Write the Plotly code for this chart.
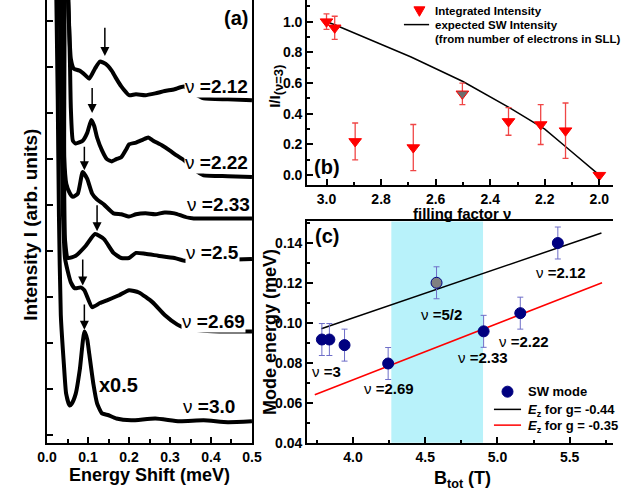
import plotly.graph_objects as go

# ---------------- Panel (a): Raman spectra (offset, arb. units) ----------------
e_212 = [0.049, 0.054, 0.058, 0.065, 0.080, 0.094, 0.103, 0.117, 0.129, 0.143, 0.158, 0.169, 0.181,
         0.193, 0.200, 0.217, 0.240, 0.264, 0.287, 0.311, 0.334, 0.358, 0.382, 0.441, 0.5]
i_212 = [9.89, 8.82, 8.18, 7.97, 7.92, 7.82, 7.75, 7.97, 8.12, 8.07, 7.92, 7.75, 7.58,
         7.45, 7.39, 7.41, 7.39, 7.43, 7.48, 7.52, 7.58, 7.43, 7.32, 7.30, 7.28]

e_222 = [0.051, 0.054, 0.056, 0.058, 0.063, 0.070, 0.087, 0.098, 0.108, 0.115, 0.122, 0.134, 0.146,
         0.158, 0.169, 0.181, 0.193, 0.200, 0.217, 0.233, 0.247, 0.259, 0.280, 0.299, 0.316, 0.335,
         0.358, 0.382, 0.441, 0.5]
i_222 = [9.89, 8.82, 8.03, 7.11, 6.40, 6.34, 6.40, 6.57, 6.85, 6.72, 6.47, 6.19, 6.00,
         5.95, 6.00, 6.04, 6.21, 6.32, 6.36, 6.42, 6.47, 6.40, 6.30, 6.19, 6.08, 5.97,
         5.78, 5.65, 5.63, 5.61]

e_233 = [0.043, 0.042, 0.042, 0.047, 0.056, 0.063, 0.075, 0.087, 0.098, 0.110, 0.122, 0.139, 0.162,
         0.181, 0.200, 0.217, 0.240, 0.264, 0.287, 0.311, 0.335, 0.358, 0.382, 0.441, 0.5]
i_233 = [9.89, 7.32, 6.04, 5.46, 5.25, 5.18, 5.25, 5.72, 5.57, 5.25, 5.12, 5.01, 4.82,
         4.80, 4.75, 4.80, 4.82, 4.80, 4.84, 4.82, 4.75, 4.71, 4.71, 4.71, 4.71]

e_25 = [0.037, 0.041, 0.044, 0.051, 0.070, 0.094, 0.117, 0.139, 0.162, 0.181, 0.200, 0.217, 0.240,
        0.271, 0.311, 0.335, 0.382, 0.441, 0.5]
i_25 = [9.89, 6.25, 4.22, 3.85, 3.90, 4.11, 4.37, 4.26, 3.96, 3.85, 3.85, 3.96, 3.94,
        3.90, 3.85, 3.79, 3.79, 3.81, 3.83]

e_269 = [0.030, 0.035, 0.039, 0.044, 0.058, 0.068, 0.082, 0.091, 0.110, 0.129, 0.146, 0.176, 0.200,
         0.224, 0.257, 0.287, 0.318, 0.335, 0.382, 0.441, 0.5]
i_269 = [9.89, 6.90, 4.75, 3.83, 3.32, 3.19, 3.21, 3.15, 2.78, 2.87, 2.93, 3.04, 3.15,
         3.10, 2.89, 2.61, 2.40, 2.33, 2.27, 2.25, 2.25]

e_30 = [0.022, 0.026, 0.029, 0.0335, 0.041, 0.0465, 0.055, 0.060, 0.070, 0.080, 0.091, 0.098, 0.103,
        0.113, 0.122, 0.134, 0.150, 0.169, 0.205, 0.264, 0.323, 0.382, 0.441, 0.5]
i_30 = [9.89, 7.32, 4.75, 2.61, 1.54, 0.90, 0.64, 0.68, 0.90, 1.43, 2.25, 2.08, 1.76,
        1.11, 0.69, 0.47, 0.43, 0.36, 0.32, 0.36, 0.30, 0.32, 0.28, 0.30]

spectra_e = [e_212, e_222, e_233, e_25, e_269, e_30]
spectra_i = [i_212, i_222, i_233, i_25, i_269, i_30]
spectra_labels = ["2.12", "2.22", "2.33", "2.5", "2.69", "3.0"]

# arrows marking the SW peak (energy, arrow tail, arrow tip)
arrow_e = [0.141, 0.110, 0.091, 0.122, 0.087, 0.091]
arrow_tail = [8.89, 7.58, 6.30, 5.03, 3.85, 2.87]
arrow_tip = [8.24, 7.00, 5.76, 4.43, 3.25, 2.29]

# ---------------- Panel (b): integrated intensity ----------------
nu_b = [3.0, 2.97, 2.895, 2.682, 2.502, 2.333, 2.215, 2.124, 2.0]
I_b = [1.0, 0.96, 0.22, 0.18, 0.53, 0.35, 0.33, 0.29, 0.0]
I_b_err = [0.05, 0.075, 0.12, 0.15, 0.07, 0.09, 0.13, 0.18, 0.0]
I_b_colors = ["red", "red", "red", "red", "rgb(110,110,110)", "red", "red", "red", "red"]

nu_exp = [3.0, 2.97, 2.69, 2.5, 2.33, 2.2, 2.12, 2.0]
I_exp = [1.0, 0.98, 0.77, 0.61, 0.44, 0.30, 0.18, 0.0]

# ---------------- Panel (c): mode energy ----------------
B_sw = [3.784, 3.836, 3.941, 4.243, 4.578, 4.904, 5.158, 5.418]
E_sw = [0.0917, 0.0917, 0.0889, 0.0797, 0.1201, 0.0958, 0.1049, 0.1400]
E_sw_err = [0.008, 0.008, 0.008, 0.008, 0.008, 0.008, 0.008, 0.008]
sw_colors = ["rgb(0,0,128)"] * 4 + ["rgb(128,128,128)"] + ["rgb(0,0,128)"] * 3
sw_labels = ["ν =3", "ν =2.69", "ν =5/2", "ν =2.33", "ν =2.22", "ν =2.12"]

B_g044 = [3.78, 5.72]
E_g044 = [0.0971, 0.145]
B_g035 = [3.735, 5.724]
E_g035 = [0.0641, 0.1201]

band_B = [4.265, 4.90]

FONT = "Liberation Sans, Arial, sans-serif"
W, H = 623, 503


def px(v):
    return v / W


def py(v):
    return 1 - v / H


fig = go.Figure()

for e, i in zip(spectra_e, spectra_i):
    fig.add_trace(go.Scatter(x=e, y=i, mode="lines", xaxis="x", yaxis="y",
                             line=dict(color="black", width=4, shape="spline", smoothing=0.5),
                             showlegend=False, hoverinfo="skip"))

# panel b
fig.add_trace(go.Scatter(x=nu_exp, y=I_exp, mode="lines", xaxis="x2", yaxis="y2",
                         line=dict(color="black", width=1.5), showlegend=False,
                         name="expected SW Intensity"))
fig.add_trace(go.Scatter(x=nu_b, y=I_b, mode="markers", xaxis="x2", yaxis="y2",
                         marker=dict(symbol="triangle-down", size=11, color=I_b_colors,
                                     line=dict(color="red", width=1)),
                         error_y=dict(type="data", array=I_b_err, color="rgb(240,70,70)",
                                      thickness=1.3, width=3),
                         name="Integrated Intensity", showlegend=False))

# panel c
fig.add_trace(go.Scatter(x=B_g044, y=E_g044, mode="lines", xaxis="x3", yaxis="y3",
                         line=dict(color="black", width=1.5), showlegend=False))
fig.add_trace(go.Scatter(x=B_g035, y=E_g035, mode="lines", xaxis="x3", yaxis="y3",
                         line=dict(color="red", width=1.5), showlegend=False))
fig.add_trace(go.Scatter(x=B_sw, y=E_sw, mode="markers", xaxis="x3", yaxis="y3",
                         marker=dict(symbol="circle", size=11, color=sw_colors,
                                     line=dict(color="rgb(0,0,128)", width=1)),
                         error_y=dict(type="data", array=E_sw_err, color="rgb(110,110,200)",
                                      thickness=1, width=3),
                         name="SW mode", showlegend=False))

shapes = [dict(type="rect", xref="x3", yref="y3 domain", x0=band_B[0], x1=band_B[1], y0=0, y1=1,
               fillcolor="rgb(184,242,250)", line=dict(width=0), layer="below")]

# ---- legend keys (drawn in pixel space) ----
shapes.append(dict(type="path", xref="paper", yref="paper", xsizemode="pixel", ysizemode="pixel",
                   xanchor=px(423), yanchor=py(11), path="M -5.5,4 L 5.5,4 L 0,-5.5 Z",
                   fillcolor="red", line=dict(color="red", width=1)))
shapes.append(dict(type="line", xref="paper", yref="paper", x0=px(407), x1=px(433), y0=py(25), y1=py(25),
                   line=dict(color="black", width=1.5)))
shapes.append(dict(type="circle", xref="paper", yref="paper", xsizemode="pixel", ysizemode="pixel",
                   xanchor=px(514), yanchor=py(398), x0=-5.5, x1=5.5, y0=-5.5, y1=5.5,
                   fillcolor="rgb(0,0,128)", line=dict(color="rgb(0,0,128)", width=1)))
shapes.append(dict(type="line", xref="paper", yref="paper", x0=px(500), x1=px(528), y0=py(416), y1=py(416),
                   line=dict(color="black", width=1.5)))
shapes.append(dict(type="line", xref="paper", yref="paper", x0=px(500), x1=px(528), y0=py(432), y1=py(432),
                   line=dict(color="red", width=1.5)))

tickfont = dict(family=FONT, size=14, color="black", weight="bold")
axis_common = dict(showline=True, linewidth=2, linecolor="black", showgrid=False, zeroline=False,
                   ticks="inside", ticklen=6, tickwidth=1.5, tickcolor="black", tickfont=tickfont)

fig.update_layout(
    width=W, height=H, margin=dict(l=0, r=0, t=0, b=0),
    paper_bgcolor="white", plot_bgcolor="white", showlegend=False,
    font=dict(family=FONT, color="black"),
    xaxis=dict(domain=[px(38.3), px(250)], range=[0, 0.5], dtick=0.1, tickformat=".1f",
               minor=dict(dtick=0.05, ticks="inside", ticklen=4, tickwidth=1.5, tickcolor="black"),
               anchor="y", **axis_common),
    yaxis=dict(domain=[py(450), 1], range=[-0.17, 9.46], dtick=1, showticklabels=False,
               mirror=True, anchor="x", **axis_common),
    xaxis2=dict(domain=[px(307), 1], range=[3.071, 1.95], dtick=0.2, tickformat=".1f",
                minor=dict(dtick=0.1, ticks="inside", ticklen=3, tickwidth=1.5, tickcolor="black"),
                anchor="y2", **axis_common),
    yaxis2=dict(domain=[py(188), 1], range=[-0.064, 1.141], dtick=0.2, tickformat=".1f",
                minor=dict(dtick=0.1, ticks="inside", ticklen=3, tickwidth=1.5, tickcolor="black"),
                anchor="x2", **axis_common),
    xaxis3=dict(domain=[px(307), 1], range=[3.682, 5.80], dtick=0.5, tickformat=".1f",
                minor=dict(dtick=0.25, ticks="inside", ticklen=3, tickwidth=1.5, tickcolor="black"),
                mirror=True, anchor="y3", **axis_common),
    yaxis3=dict(domain=[py(450), py(225)], range=[0.04, 0.1508], dtick=0.02, tickformat=".2f",
                minor=dict(dtick=0.01, ticks="inside", ticklen=3, tickwidth=1.5, tickcolor="black"),
                anchor="x3", **axis_common),
    shapes=shapes,
)


def text_ann(txt, x, y, size, xanchor="center", yanchor="middle", angle=0, **kw):
    d = dict(x=px(x), y=py(y), xref="paper", yref="paper", text=txt, showarrow=False,
             xanchor=xanchor, yanchor=yanchor, textangle=angle,
             font=dict(family=FONT, size=size, color="black"))
    d.update(kw)
    return d


ann = []
# arrows in panel (a)
for xe, t0, t1 in zip(arrow_e, arrow_tail, arrow_tip):
    ann.append(dict(x=xe, y=t1, ax=xe, ay=t0, xref="x", yref="y", axref="x", ayref="y",
                    showarrow=True, arrowhead=2, arrowsize=1.2, arrowwidth=1.5, arrowcolor="black",
                    text=""))

# labels in panel (a): (right edge px, center y px)
a_label_pos = [(247, 88), (247, 165), (249, 208), (238, 257), (244, 327), (234, 413)]
for lab, (xr, yc) in zip(spectra_labels, a_label_pos):
    ann.append(text_ann("ν <b>=" + lab + "</b>", xr, yc, 19, xanchor="right",
                        bgcolor="white" if lab != "3.0" else "rgba(0,0,0,0)", borderpad=0))
ann.append(text_ann("<b>x0.5</b>", 112, 391, 20))

# labels in panel (c): (center x px, center y px)
c_label_pos = [(327, 378), (392, 395), (446, 320), (489, 363), (531, 347), (569, 277)]
for lab, (xc, yc) in zip(sw_labels, c_label_pos):
    t = lab.split(" ")
    ann.append(text_ann(t[0] + " <b>" + t[1] + "</b>", xc, yc, 15))

# panel letters
for txt, (xc, yc) in [("(a)", (234, 18)), ("(b)", (328, 170)), ("(c)", (327, 240))]:
    ann.append(text_ann("<b>" + txt + "</b>", xc, yc, 20))

# legend texts
ann.append(text_ann("<b>Integrated Intensity</b>", 437, 11, 11.5, xanchor="left"))
ann.append(text_ann("<b>expected SW Intensity</b>", 437, 25, 11.5, xanchor="left"))
ann.append(text_ann("<b>(from number of electrons in SLL)</b>", 437, 40, 11.5, xanchor="left"))
ann.append(text_ann("<b>SW mode</b>", 533, 398, 13, xanchor="left"))
ann.append(text_ann("<b><i>E</i><sub>z</sub> for g= -0.44</b>", 533, 417, 13, xanchor="left"))
ann.append(text_ann("<b><i>E</i><sub>z</sub> for g = -0.35</b>", 533, 433, 13, xanchor="left"))

# axis titles
ann.append(text_ann("<b>Energy Shift (meV)</b>", 144, 483, 18))
ann.append(text_ann("<b>Intensity I (arb. units)</b>", 21, 228, 19, angle=-90))
ann.append(text_ann("<b>filling factor ν</b>", 467, 216.5, 15))
ann.append(text_ann("<b>I/I<sub><span style='font-size:13px'>(ν=3)</span></sub></b>", 274, 88, 15, angle=-90))
ann.append(text_ann("<b>Mode energy (meV)</b>", 268, 337, 18, angle=-90))
ann.append(text_ann("<b>B<sub>tot</sub> (T)</b>", 467, 487, 18))

fig.update_layout(annotations=ann)
fig.write_html("out.html", config={"displayModeBar": False},
               post_script="document.body.style.margin='0px';document.body.style.overflow='hidden';")
